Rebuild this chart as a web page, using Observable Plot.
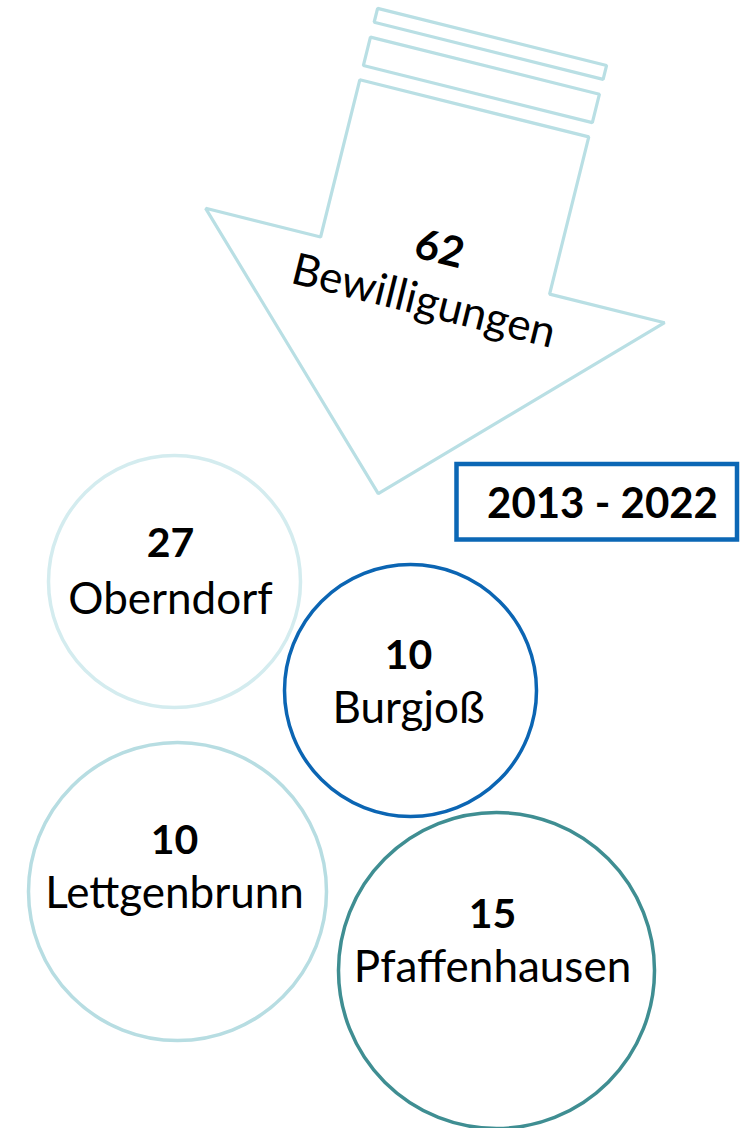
<!DOCTYPE html>
<html><head><meta charset="utf-8">
<script src="https://cdn.jsdelivr.net/npm/d3@7"></script>
<script src="https://cdn.jsdelivr.net/npm/@observablehq/plot@0.6"></script>
<style>html,body{margin:0;padding:0;background:#fff}</style>
</head><body><div id="chart"></div>
<script>
// ---- data ----
const places = ["Oberndorf", "Burgjoß", "Lettgenbrunn", "Pfaffenhausen"];
const approvals = [27, 10, 10, 15];
const totalApprovals = 62;
const totalLabel = "Bewilligungen";
const periodLabel = "2013 - 2022";

// ---- layout (pixels) ----
const W = 740, H = 1128;
const circleX = [174, 410, 177, 496];
const circleY = [581, 690, 891, 970];
const circleR = [126, 126, 149, 158];
const circleColor = ["#d4ecef", "#0b65b3", "#b7dde2", "#3f8e92"];
const textX = [170, 408, 174, 492];
const numberY = [556, 668, 853, 927];
const nameY = [613, 722, 907, 981];

const arrowColor = "#b9dfe4";
const arrowOrigin = [359.3, 79.3], arrowAngle = 14;
const shaftW = 236, shaftL = 162, headW = 473, headL = 235;
const stripes = [[-44, -14.7], [-73.6, -59.3]];
const arrowNumPos = [439, 249], arrowLabelPos = [423, 301];
const box = {x1: 456.5, x2: 737, y1: 464, y2: 539.5};
const periodPos = [602, 517];

// ---- build tables ----
const circles = places.map((p, i) => ({
  place: p, n: approvals[i], x: circleX[i], y: circleY[i], r: circleR[i],
  color: circleColor[i], tx: textX[i], ny: numberY[i], py: nameY[i]
}));

const th = arrowAngle * Math.PI / 180;
const toXY = (a, b) => ({
  x: arrowOrigin[0] + a * Math.cos(th) - b * Math.sin(th),
  y: arrowOrigin[1] + a * Math.sin(th) + b * Math.cos(th)
});
const cx = shaftW / 2;
const arrowLocal = [
  [0, 0], [shaftW, 0], [shaftW, shaftL], [cx + headW / 2, shaftL],
  [cx, shaftL + headL], [cx - headW / 2, shaftL], [0, shaftL]
];
const shapes = [];
arrowLocal.forEach(([a, b]) => shapes.push({part: "arrow", ...toXY(a, b)}));
stripes.forEach(([b0, b1], k) => {
  [[0, b0], [shaftW, b0], [shaftW, b1], [0, b1]].forEach(([a, b]) =>
    shapes.push({part: "stripe" + k, ...toXY(a, b)}));
});

const font = "Lato, 'Noto Sans', sans-serif";

const chart = Plot.plot({
  width: W, height: H, margin: 0,
  x: {domain: [0, W], range: [0, W], axis: null},
  y: {domain: [0, H], range: [0, H], axis: null},
  r: {type: "identity"},
  color: {type: "identity"},
  style: {fontFamily: font, background: "#fff", color: "#000"},
  marks: [
    Plot.line(shapes, {x: "x", y: "y", z: "part", curve: "linear-closed",
      stroke: arrowColor, strokeWidth: 3.2, strokeLinejoin: "miter", fill: "#fff"}),
    Plot.text([totalApprovals], {x: () => arrowNumPos[0], y: () => arrowNumPos[1],
      text: d => String(d), rotate: arrowAngle, fontSize: 42, fontWeight: "bold",
      textAnchor: "middle", lineAnchor: "middle", fill: "#000"}),
    Plot.text([totalLabel], {x: () => arrowLabelPos[0], y: () => arrowLabelPos[1],
      text: d => d, rotate: arrowAngle, fontSize: 44,
      textAnchor: "middle", lineAnchor: "middle", fill: "#000"}),
    Plot.dot(circles, {x: "x", y: "y", r: "r", stroke: "color", strokeWidth: 3.5, fill: "none"}),
    Plot.text(circles, {x: "tx", y: "ny", text: d => String(d.n), fontSize: 41,
      fontWeight: "bold", textAnchor: "middle", lineAnchor: "bottom", fill: "#000"}),
    Plot.text(circles, {x: "tx", y: "py", text: "place", fontSize: 44,
      textAnchor: "middle", lineAnchor: "bottom", fill: "#000"}),
    Plot.rect([box], {x1: "x1", x2: "x2", y1: "y1", y2: "y2", fill: "#fff",
      stroke: "#0b67b5", strokeWidth: 4.5}),
    Plot.text([periodLabel], {x: () => periodPos[0], y: () => periodPos[1],
      text: d => d, fontSize: 42, fontWeight: "bold", textAnchor: "middle",
      lineAnchor: "bottom", fill: "#000"})
  ]
});
document.getElementById("chart").appendChild(chart);
</script>
</body></html>
